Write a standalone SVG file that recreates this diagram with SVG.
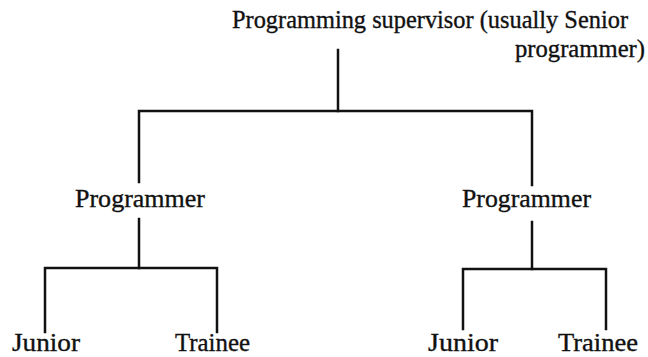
<svg xmlns="http://www.w3.org/2000/svg" width="648" height="357" viewBox="0 0 648 357">
  <style>
    text { font-family: 'Liberation Serif', 'Times New Roman', serif; font-size: 25px; fill: #111; stroke: #111; stroke-width: 0.35; }
    .ln { fill: none; stroke: #111; stroke-width: 2.5; stroke-linecap: square; stroke-linejoin: miter; }
  </style>
  <rect width="648" height="357" fill="#fff"/>

  <!-- connectors: org-chart brackets -->
  <g id="connectors">
    <path class="ln" d="M338 50 V111"/>
    <path class="ln" d="M139 182 V111 H532 V185"/>
    <path class="ln" d="M139 219 V268"/>
    <path class="ln" d="M45 332 V268 H217 V332"/>
    <path class="ln" d="M532 222 V269"/>
    <path class="ln" d="M463 329 V269 H606 V329"/>
  </g>

  <g id="supervisor">
    <text x="232" y="28" textLength="396" lengthAdjust="spacingAndGlyphs">Programming supervisor (usually Senior</text>
    <text x="515" y="57" textLength="130" lengthAdjust="spacingAndGlyphs">programmer)</text>
  </g>

  <g id="programmer-left">
    <text x="75" y="207" textLength="130" lengthAdjust="spacingAndGlyphs">Programmer</text>
  </g>
  <g id="programmer-right">
    <text x="462" y="207" textLength="129" lengthAdjust="spacingAndGlyphs">Programmer</text>
  </g>

  <g id="junior-left">
    <text x="12" y="351" textLength="68" lengthAdjust="spacingAndGlyphs">Junior</text>
  </g>
  <g id="trainee-left">
    <text x="175" y="351" textLength="75" lengthAdjust="spacingAndGlyphs">Trainee</text>
  </g>
  <g id="junior-right">
    <text x="428" y="351" textLength="70" lengthAdjust="spacingAndGlyphs">Junior</text>
  </g>
  <g id="trainee-right">
    <text x="558" y="351" textLength="80" lengthAdjust="spacingAndGlyphs">Trainee</text>
  </g>
</svg>
